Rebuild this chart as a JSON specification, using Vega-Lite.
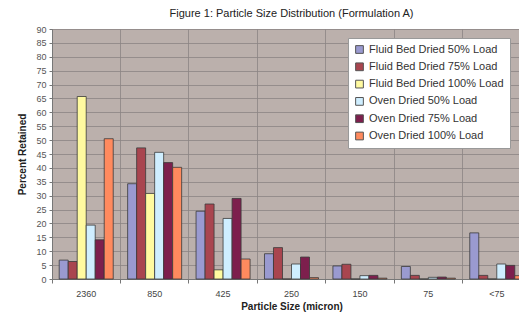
{
  "$schema": "https://vega.github.io/schema/vega-lite/v6.json",
  "autosize": {"type": "none"},
  "padding": {"left": 52, "top": 29, "right": 10, "bottom": 36},
  "width": 479,
  "height": 250,
  "background": "white",
  "title": {"text": "Figure 1: Particle Size Distribution (Formulation A)", "fontSize": 11, "fontWeight": "normal", "font": "Liberation Sans", "color": "#222", "offset": 6, "anchor": "middle"},
  "config": {
    "view": {"fill": "#bbb0ac", "stroke": null},
    "font": "Liberation Sans",
    "legend": {"rowPadding": 4.3}
  },
  "data": {"values": [
    {"size": "2360", "series": "Fluid Bed Dried 50% Load", "value": 6.8},
    {"size": "2360", "series": "Fluid Bed Dried 75% Load", "value": 6.3},
    {"size": "2360", "series": "Fluid Bed Dried 100% Load", "value": 65.7},
    {"size": "2360", "series": "Oven Dried 50% Load", "value": 19.4},
    {"size": "2360", "series": "Oven Dried 75% Load", "value": 14.1},
    {"size": "2360", "series": "Oven Dried 100% Load", "value": 50.5},
    {"size": "850", "series": "Fluid Bed Dried 50% Load", "value": 34.3},
    {"size": "850", "series": "Fluid Bed Dried 75% Load", "value": 47.2},
    {"size": "850", "series": "Fluid Bed Dried 100% Load", "value": 30.8},
    {"size": "850", "series": "Oven Dried 50% Load", "value": 45.6},
    {"size": "850", "series": "Oven Dried 75% Load", "value": 41.9},
    {"size": "850", "series": "Oven Dried 100% Load", "value": 40.2},
    {"size": "425", "series": "Fluid Bed Dried 50% Load", "value": 24.4},
    {"size": "425", "series": "Fluid Bed Dried 75% Load", "value": 27.0},
    {"size": "425", "series": "Fluid Bed Dried 100% Load", "value": 3.3},
    {"size": "425", "series": "Oven Dried 50% Load", "value": 21.8},
    {"size": "425", "series": "Oven Dried 75% Load", "value": 29.0},
    {"size": "425", "series": "Oven Dried 100% Load", "value": 7.2},
    {"size": "250", "series": "Fluid Bed Dried 50% Load", "value": 9.1},
    {"size": "250", "series": "Fluid Bed Dried 75% Load", "value": 11.3},
    {"size": "250", "series": "Fluid Bed Dried 100% Load", "value": 0},
    {"size": "250", "series": "Oven Dried 50% Load", "value": 5.4},
    {"size": "250", "series": "Oven Dried 75% Load", "value": 7.9},
    {"size": "250", "series": "Oven Dried 100% Load", "value": 0.5},
    {"size": "150", "series": "Fluid Bed Dried 50% Load", "value": 4.7},
    {"size": "150", "series": "Fluid Bed Dried 75% Load", "value": 5.3},
    {"size": "150", "series": "Fluid Bed Dried 100% Load", "value": 0},
    {"size": "150", "series": "Oven Dried 50% Load", "value": 1.2},
    {"size": "150", "series": "Oven Dried 75% Load", "value": 1.3},
    {"size": "150", "series": "Oven Dried 100% Load", "value": 0.3},
    {"size": "75", "series": "Fluid Bed Dried 50% Load", "value": 4.5},
    {"size": "75", "series": "Fluid Bed Dried 75% Load", "value": 1.3},
    {"size": "75", "series": "Fluid Bed Dried 100% Load", "value": 0},
    {"size": "75", "series": "Oven Dried 50% Load", "value": 0.6},
    {"size": "75", "series": "Oven Dried 75% Load", "value": 0.7},
    {"size": "75", "series": "Oven Dried 100% Load", "value": 0.3},
    {"size": "<75", "series": "Fluid Bed Dried 50% Load", "value": 16.6},
    {"size": "<75", "series": "Fluid Bed Dried 75% Load", "value": 1.3},
    {"size": "<75", "series": "Fluid Bed Dried 100% Load", "value": 0},
    {"size": "<75", "series": "Oven Dried 50% Load", "value": 5.4},
    {"size": "<75", "series": "Oven Dried 75% Load", "value": 4.9},
    {"size": "<75", "series": "Oven Dried 100% Load", "value": 1.2}
  ]},
  "mark": {"type": "bar", "stroke": "#3a3a3a", "strokeWidth": 0.8},
  "encoding": {
    "x": {
      "field": "size", "type": "nominal",
      "sort": ["2360", "850", "425", "250", "150", "75", "<75"],
      "scale": {"paddingInner": 0, "paddingOuter": 0},
      "axis": {
        "title": "Particle Size (micron)", "titleFontSize": 10, "titleFontWeight": "bold", "titleColor": "#222", "titlePadding": 3,
        "labelAngle": 0, "labelFontSize": 9, "labelColor": "#444", "labelPadding": 6,
        "bandPosition": 0,
        "grid": true, "gridColor": "#8c8484", "gridWidth": 0.8,
        "domainColor": "#777", "tickColor": "#777", "tickSize": 4
      }
    },
    "xOffset": {
      "field": "series", "type": "nominal",
      "sort": ["Fluid Bed Dried 50% Load", "Fluid Bed Dried 75% Load", "Fluid Bed Dried 100% Load", "Oven Dried 50% Load", "Oven Dried 75% Load", "Oven Dried 100% Load"],
      "scale": {"paddingInner": 0, "paddingOuter": 0.8}
    },
    "y": {
      "field": "value", "type": "quantitative",
      "scale": {"domain": [0, 90], "nice": false},
      "axis": {
        "title": "Percent Retained", "titleFontSize": 10, "titleFontWeight": "bold", "titleColor": "#222", "titlePadding": 8,
        "values": [0,5,10,15,20,25,30,35,40,45,50,55,60,65,70,75,80,85,90],
        "labelFontSize": 9, "labelColor": "#555", "labelPadding": 3,
        "grid": true, "gridColor": "#8c8484", "gridWidth": 0.8,
        "domainColor": "#777", "tickColor": "#777", "tickSize": 3
      }
    },
    "color": {
      "field": "series", "type": "nominal",
      "scale": {
        "domain": ["Fluid Bed Dried 50% Load", "Fluid Bed Dried 75% Load", "Fluid Bed Dried 100% Load", "Oven Dried 50% Load", "Oven Dried 75% Load", "Oven Dried 100% Load"],
        "range": ["#9a9ad0", "#a9454f", "#fffaa0", "#cfeeff", "#7d1f4d", "#ff8a5e"]
      },
      "legend": {
        "title": null, "orient": "none", "legendX": 296, "legendY": 9,
        "fillColor": "white", "strokeColor": "#999", "padding": 6,
        "symbolType": "square", "symbolSize": 60, "symbolStrokeColor": "#555", "symbolStrokeWidth": 1, "symbolOpacity": 1,
        "labelFontSize": 11, "labelColor": "#333", "labelOffset": 4, "labelLimit": 200
      }
    }
  }
}
